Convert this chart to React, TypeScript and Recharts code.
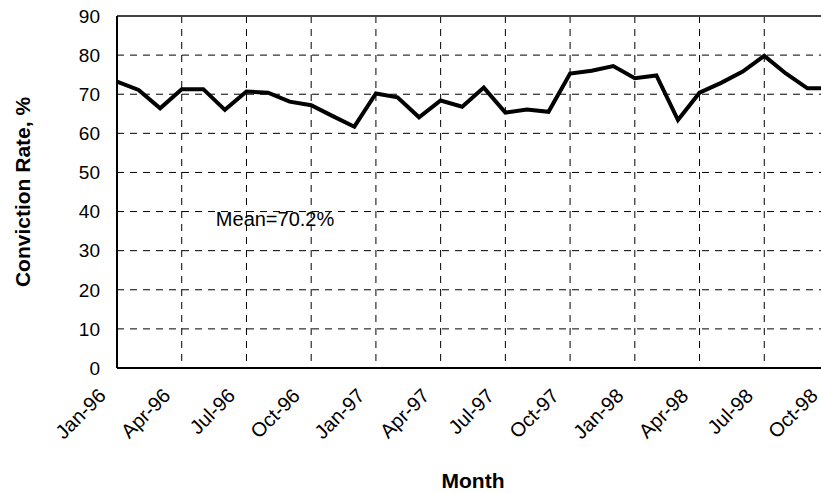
import {
  LineChart,
  Line,
  XAxis,
  YAxis,
  CartesianGrid,
  ReferenceLine,
  ReferenceDot,
} from "recharts";

const months = [
  "Jan-96", "Feb-96", "Mar-96", "Apr-96", "May-96", "Jun-96",
  "Jul-96", "Aug-96", "Sep-96", "Oct-96", "Nov-96", "Dec-96",
  "Jan-97", "Feb-97", "Mar-97", "Apr-97", "May-97", "Jun-97",
  "Jul-97", "Aug-97", "Sep-97", "Oct-97", "Nov-97", "Dec-97",
  "Jan-98", "Feb-98", "Mar-98", "Apr-98", "May-98", "Jun-98",
  "Jul-98", "Aug-98", "Sep-98", "Oct-98",
];

const convictionRate = [
  73.2, 71.1, 66.4, 71.3, 71.3, 66.0,
  70.7, 70.4, 68.1, 67.2, 64.4, 61.7,
  70.2, 69.2, 64.1, 68.4, 66.8, 71.7,
  65.3, 66.1, 65.5, 75.3, 76.0, 77.2,
  74.1, 74.8, 63.4, 70.4, 72.9, 75.8,
  79.8, 75.3, 71.5, 71.5,
];

const xTicks = [0, 3, 6, 9, 12, 15, 18, 21, 24, 27, 30, 33];
const yTicks = [0, 10, 20, 30, 40, 50, 60, 70, 80, 90];

const meanLabel = "Mean=70.2%";

const data = months.map((m, i) => ({ i, month: m, rate: convictionRate[i] }));

const FONT = "'Liberation Sans', Arial, sans-serif";

// rotated month labels, end of text sits just below-left of the tick
function MonthTick({ x, y, payload }: any) {
  const px = x - 10;
  const py = y + 29;
  return (
    <text
      x={px}
      y={py}
      textAnchor="end"
      transform={`rotate(-45, ${px}, ${py})`}
      fontSize={20}
      fontFamily={FONT}
      fill="#000"
    >
      {months[payload.value]}
    </text>
  );
}

export default function App() {
  return (
    <div
      style={{
        position: "fixed",
        left: 0,
        top: 0,
        width: 821,
        height: 493,
        overflow: "hidden",
        background: "#fff",
      }}
    >
      <LineChart
        width={834}
        height={493}
        data={data}
        margin={{ top: 16, right: 5, left: 0, bottom: 0 }}
      >
        <CartesianGrid stroke="#000" strokeDasharray="7 6" strokeWidth={1} />
        <XAxis
          dataKey="i"
          type="number"
          domain={[0, 33]}
          ticks={xTicks}
          interval={0}
          height={125}
          tickLine={false}
          tickSize={0}
          tickMargin={0}
          axisLine={{ stroke: "#000", strokeWidth: 2 }}
          tick={<MonthTick />}
          label={{
            value: "Month",
            position: "center",
            dy: 50,
            style: { fontFamily: FONT, fontSize: 21, fontWeight: "bold", fill: "#000" },
          }}
        />
        <YAxis
          domain={[0, 90]}
          ticks={yTicks}
          width={117}
          tickLine={false}
          tickSize={6}
          tickMargin={11}
          axisLine={{ stroke: "#000", strokeWidth: 2 }}
          tick={{ fill: "#000", fontSize: 19, fontFamily: FONT }}
          label={{
            value: "Conviction Rate, %",
            angle: -90,
            position: "center",
            dx: -36,
            style: { fontFamily: FONT, fontSize: 21, fontWeight: "bold", fill: "#000" },
          }}
        />
        <ReferenceLine y={90} stroke="#444" strokeWidth={2} />
        <ReferenceDot
          x={4.35}
          y={38}
          r={0}
          fill="none"
          stroke="none"
          label={{
            value: meanLabel,
            position: "right",
            style: { fontFamily: FONT, fontSize: 20, fill: "#000" },
          }}
        />
        <Line
          type="linear"
          dataKey="rate"
          stroke="#000"
          strokeWidth={4}
          dot={false}
          isAnimationActive={false}
        />
      </LineChart>
    </div>
  );
}
